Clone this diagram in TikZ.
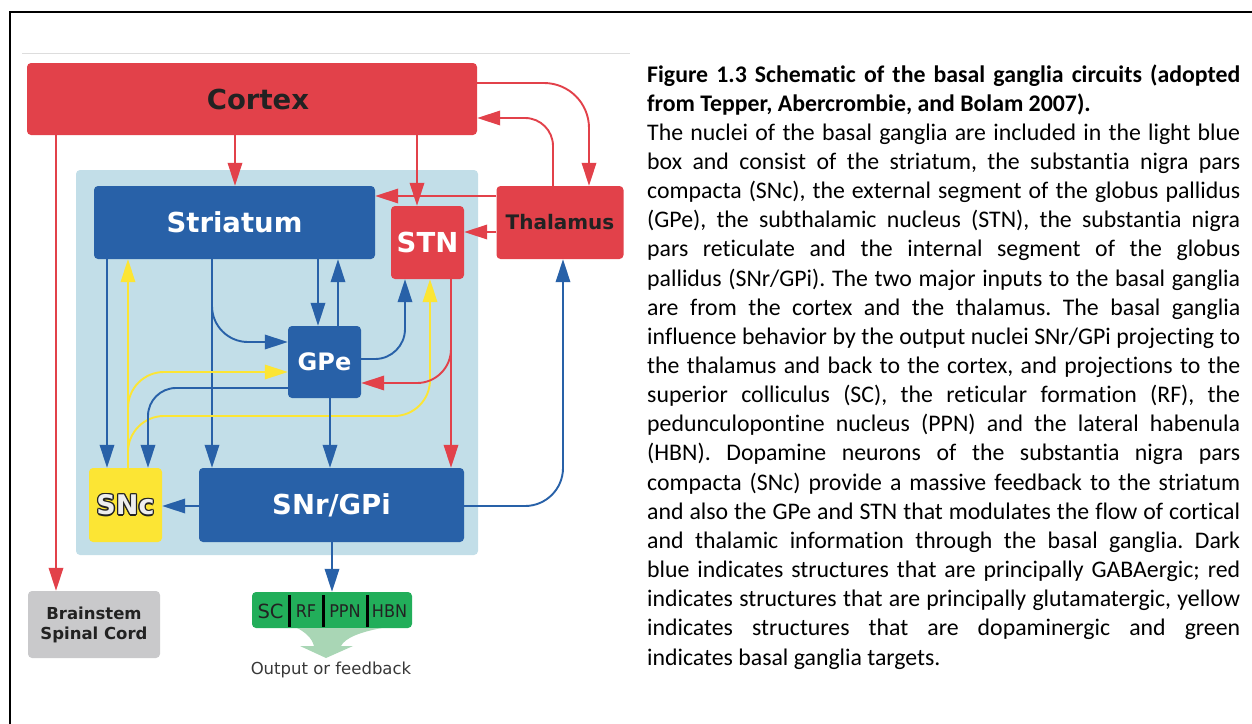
\documentclass[tikz,border=0pt]{standalone}
\usepackage{fontspec}
\usepackage{graphicx}
\usetikzlibrary{arrows.meta}
\newfontfamily\dfont{DejaVu Sans}
\newfontfamily\capfont{Carlito}[Ligatures={NoCommon}]
\definecolor{cred}{HTML}{E2414A}
\definecolor{cblue}{HTML}{2861A8}
\definecolor{cbg}{HTML}{C2DEE8}
\definecolor{cyel}{HTML}{FCE534}
\definecolor{cgreen}{HTML}{22AE5A}
\definecolor{clgreen}{HTML}{A9D6B5}
\definecolor{cgray}{HTML}{C9C9CB}
\definecolor{ctxt}{HTML}{222222}
\definecolor{csep}{HTML}{DDDDDD}
\newcommand\jline[1]{\hbox to 593pt{#1}}
\newcommand\lline[1]{\hbox to 593pt{#1\hfil}}
\newcommand\olt[1]{\leavevmode
 \rlap{\color{ctxt}\kern-1.3pt#1}\rlap{\color{ctxt}\kern1.3pt#1}%
 \rlap{\color{ctxt}\raisebox{1.3pt}{#1}}\rlap{\color{ctxt}\raisebox{-1.3pt}{#1}}%
 \rlap{\color{ctxt}\kern-0.95pt\raisebox{0.95pt}{#1}}\rlap{\color{ctxt}\kern0.95pt\raisebox{0.95pt}{#1}}%
 \rlap{\color{ctxt}\kern-0.95pt\raisebox{-0.95pt}{#1}}\rlap{\color{ctxt}\kern0.95pt\raisebox{-0.95pt}{#1}}%
 {\color[HTML]{EEEEEE}#1}}
\tikzset{
 box/.style={rounded corners=4pt, inner sep=0pt, draw=none},
 big/.style={font=\dfont\bfseries\fontsize{27.5}{32}\selectfont},
 conn/.style={line width=1.9pt, -{Triangle[length=23pt,width=14.5pt]}},
 rl/.style={conn, draw=cred},
 bl/.style={conn, draw=cblue},
 yl/.style={conn, draw=cyel},
 olabel/.style={inner sep=0, text=ctxt, font=\dfont\fontsize{17.5}{20}\selectfont},
}
\begin{document}
\begin{tikzpicture}[x=1pt,y=-1pt]
\useasboundingbox (0,0) rectangle (1252,723);
% frame
\draw[line width=2.5pt] (10,730) -- (10,12) -- (1260,12);
\draw[csep, line width=1pt] (22,53) -- (630,53);
% background and boxes
\node[box, fill=cbg, minimum width=402pt, minimum height=385pt] (bg) at (277,362.5) {};
\node[box, fill=cred, minimum width=450pt, minimum height=72pt] (ctx) at (252,99) {};
\node[big, text=ctxt, inner sep=0pt] (ctxl) at (258,99) {Cortex};
\node[box, fill=cblue, minimum width=281pt, minimum height=73pt, big, text=white] (str) at (234.5,222.5) {Striatum};
\node[box, fill=cred, minimum width=73pt, minimum height=73pt, big, text=white] (stn) at (427.5,242.5) {STN};
\node[box, fill=cred, minimum width=127pt, minimum height=73pt, text=ctxt, font=\dfont\bfseries\fontsize{20}{24}\selectfont] (thal) at (560,222.5) {Thalamus};
\node[box, fill=cblue, minimum width=73pt, minimum height=72pt, text=white, font=\dfont\bfseries\fontsize{24}{28}\selectfont] (gpe) at (324.5,362) {GPe};
\node[box, fill=cyel, minimum width=73pt, minimum height=74pt, font=\dfont\bfseries\fontsize{27}{30}\selectfont] (snc) at (125.5,505) {\olt{SNc}};
\node[box, fill=cblue, minimum width=265pt, minimum height=74pt, big, text=white] (snr) at (331.5,505) {SNr/GPi};
\node[box, fill=cgray, minimum width=132pt, minimum height=67pt, text=ctxt, align=center, font=\dfont\bfseries\fontsize{16.5}{20}\selectfont] (bst) at (94,624.5) {Brainstem\\Spinal Cord};
\node[box, fill=cgreen, minimum width=160pt, minimum height=36pt] (out) at (332,610) {};
% output labels
\node[olabel, font=\dfont\fontsize{19.5}{22}\selectfont] (lsc) at (270.5,611) {SC};
\node[olabel] (lrf) at (306,611) {\scalebox{0.92}[1]{RF}};
\node[olabel] (lppn) at (345,611) {\scalebox{0.92}[1]{PPN}};
\node[olabel] (lhbn) at (389.5,611) {\scalebox{0.92}[1]{HBN}};
\draw[line width=3pt] (289,595) -- (289,627) (323,595) -- (323,627) (367,595) -- (367,627);
\fill[clgreen] (297,628) -- (382,628) .. controls (360,632) and (345,638) .. (341,646) -- (353,646) -- (326,658) -- (300,646) -- (314,646) .. controls (312,638) and (305,632) .. (297,628) -- cycle;
\node[inner sep=0, text=ctxt!90!white, font=\dfont\fontsize{16.5}{19}\selectfont] (olab) at (331,670) {Output or feedback};
% connectors: cortex
\draw[rl] (56,0 |- ctx.south) -- (56,0 |- bst.north);
\draw[rl] (235,0 |- ctx.south) -- (235,0 |- str.north);
\draw[rl] (thal.west |- 0,196) -- (str.east |- 0,196);
\draw[rl] (417,0 |- ctx.south) -- (417,0 |- stn.north);
\draw[rl, rounded corners=45pt] (ctx.east |- 0,83) -- (589,83) -- (589,0 |- thal.north);
\draw[rl, rounded corners=28pt] (553,0 |- thal.north) -- (553,118) -- (ctx.east |- 0,118);
\draw[rl] (thal.west |- 0,232) -- (stn.east |- 0,232);
% striatum outputs
\draw[bl] (107,0 |- str.south) -- (107,0 |- snc.north);
\draw[bl] (212,0 |- str.south) -- (212,0 |- snr.north);
\draw[bl, rounded corners=36pt] (212,0 |- str.south) -- (212,342) -- (gpe.west |- 0,342);
\draw[bl] (318,0 |- str.south) -- (318,0 |- gpe.north);
\draw[bl] (338,0 |- gpe.north) -- (338,0 |- str.south);
% yellow
\draw[yl, rounded corners=36pt] (128,0 |- snc.north) -- (128,372) -- (gpe.west |- 0,372);
\draw[yl, rounded corners=36pt] (128,0 |- snc.north) -- (128,416) -- (430,416) -- (430,0 |- stn.south);
\draw[yl] (128,0 |- snc.north) -- (128,0 |- str.south);
% GPe and STN
\draw[bl, rounded corners=30pt] (gpe.east |- 0,359) -- (405,359) -- (405,0 |- stn.south);
\draw[bl, rounded corners=28pt] (gpe.west |- 0,388) -- (148,388) -- (148,0 |- snc.north);
\draw[bl] (330,0 |- gpe.south) -- (330,0 |- snr.north);
\draw[rl, rounded corners=34pt] (451,0 |- stn.south) -- (451,383) -- (gpe.east |- 0,383);
\draw[rl] (451,0 |- stn.south) -- (451,0 |- snr.north);
% SNr outputs
\draw[bl] (snr.west |- 0,506) -- (snc.east |- 0,506);
\draw[bl, rounded corners=38pt] (snr.east |- 0,506) -- (563,506) -- (563,0 |- thal.south);
\draw[bl] (332,0 |- snr.south) -- (332,0 |- out.north);
% caption
\node[anchor=base west, inner sep=0pt, font=\capfont\fontsize{23.8}{29.15}\selectfont] (cap) at (647,82) {\frenchspacing\vtop{\baselineskip=29.15pt
\jline{\bfseries Figure 1.3 Schematic of the basal ganglia circuits (adopted}
\lline{\bfseries from Tepper, Abercrombie, and Bolam 2007).}
\jline{The nuclei of the basal ganglia are included in the light blue}
\jline{box and consist of the striatum, the substantia nigra pars}
\jline{compacta (SNc), the external segment of the globus pallidus}
\jline{(GPe), the subthalamic nucleus (STN), the substantia nigra}
\jline{pars reticulate and the internal segment of the globus}
\jline{pallidus (SNr/GPi). The two major inputs to the basal ganglia}
\jline{are from the cortex and the thalamus. The basal ganglia}
\jline{influence behavior by the output nuclei SNr/GPi projecting to}
\jline{the thalamus and back to the cortex, and projections to the}
\jline{superior colliculus (SC), the reticular formation (RF), the}
\jline{pedunculopontine nucleus (PPN) and the lateral habenula}
\jline{(HBN). Dopamine neurons of the substantia nigra pars}
\jline{compacta (SNc) provide a massive feedback to the striatum}
\jline{and also the GPe and STN that modulates the flow of cortical}
\jline{and thalamic information through the basal ganglia. Dark}
\jline{blue indicates structures that are principally GABAergic; red}
\jline{indicates structures that are principally glutamatergic, yellow}
\jline{indicates structures that are dopaminergic and green}
\lline{indicates basal ganglia targets.}}};
\end{tikzpicture}
\end{document}
